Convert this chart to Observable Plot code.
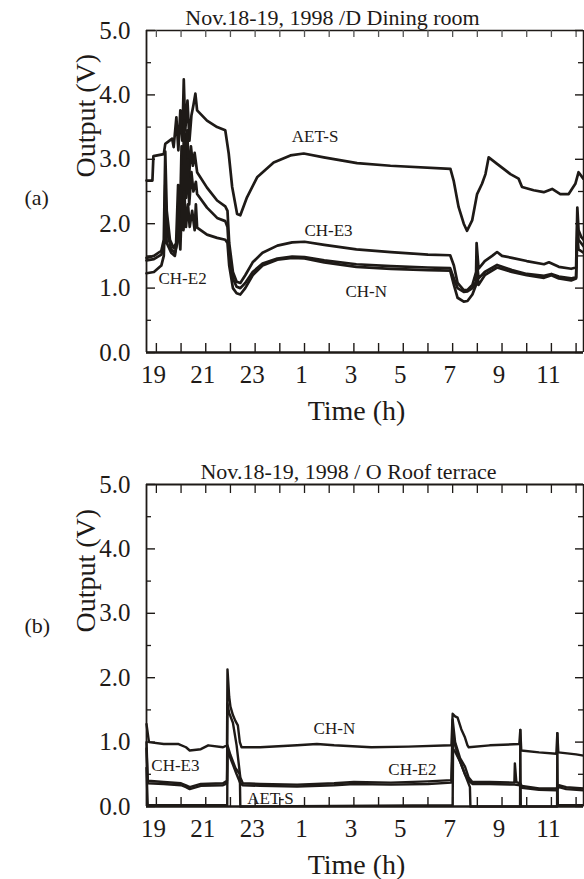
<!DOCTYPE html>
<html>
<head>
<meta charset="utf-8">
<script src="https://cdn.jsdelivr.net/npm/d3@7"></script>
<script src="https://cdn.jsdelivr.net/npm/@observablehq/plot@0.6"></script>
<style>
  html, body { margin: 0; padding: 0; background: #fff; overflow: hidden; }
  #wrap svg { display: block; font-family: "Liberation Serif", "Times New Roman", serif; }
  #wrap svg text { font-family: "Liberation Serif", "Times New Roman", serif; }
</style>
</head>
<body>
<div id="wrap"></div>
<script>
// ---------- axes / ticks ----------
const xDomain = [18.6, 36.3];            // hours (25 = 1h next day)
const hourTicks = d3.range(19, 37);      // tick every hour
const xLabelHours = [19, 21, 23, 25, 27, 29, 31, 33, 35];
const xLabelText = ["19", "21", "23", "1", "3", "5", "7", "9", "11"];
const yMajor = [0, 1, 2, 3, 4, 5];
const yMinor = [0.5, 1.5, 2.5, 3.5, 4.5];
const yLabelText = ["0.0", "1.0", "2.0", "3.0", "4.0", "5.0"];

// ---------- panel (a) Dining room : [hour, volts] ----------
const aAETS = [[18.6,2.67],[18.84,2.67],[18.88,3.05],[19.30,3.08],[19.36,3.24],[19.64,3.32],[19.70,3.19],[19.81,3.65],[19.89,3.14],[19.97,3.76],[20.05,3.29],[20.11,4.24],[20.17,3.45],[20.26,3.91],[20.34,3.29],[20.42,3.68],[20.50,3.84],[20.58,4.02],[20.65,3.76],[21.05,3.60],[21.46,3.50],[21.79,3.45],[21.93,3.09],[22.07,2.57],[22.27,2.15],[22.40,2.13],[22.67,2.41],[23.08,2.72],[23.75,2.95],[24.43,3.06],[24.97,3.09],[25.78,3.03],[27.13,2.94],[28.48,2.90],[30.91,2.85],[31.04,2.67],[31.24,2.26],[31.45,2.00],[31.58,1.89],[31.79,2.05],[31.99,2.46],[32.19,2.62],[32.33,2.77],[32.46,3.03],[32.80,2.93],[33.34,2.77],[33.67,2.70],[33.81,2.57],[34.28,2.52],[34.69,2.49],[35.03,2.54],[35.36,2.46],[35.70,2.46],[35.97,2.62],[36.10,2.80],[36.29,2.70]];
const aCHE3 = [[18.6,1.47],[18.9,1.50],[19.2,1.58],[19.3,1.75],[19.36,3.12],[19.42,2.2],[19.55,1.75],[19.7,1.62],[19.8,1.7],[19.88,2.6],[19.95,2.0],[20.02,3.2],[20.08,2.4],[20.12,3.6],[20.18,2.8],[20.25,3.45],[20.32,2.7],[20.4,3.2],[20.48,2.9],[20.55,3.1],[20.65,2.8],[21.05,2.56],[21.46,2.36],[21.79,2.27],[21.88,2.2],[21.95,1.7],[22.1,1.25],[22.25,1.1],[22.4,1.08],[22.6,1.2],[22.9,1.4],[23.3,1.55],[23.9,1.66],[24.5,1.71],[25.0,1.72],[25.8,1.67],[27.1,1.60],[28.5,1.56],[30.0,1.52],[30.9,1.51],[31.05,1.35],[31.2,1.08],[31.45,0.97],[31.6,0.97],[31.8,1.05],[31.95,1.25],[31.97,1.7],[32.05,1.3],[32.3,1.42],[32.6,1.50],[32.8,1.56],[33.0,1.50],[33.4,1.47],[34.0,1.42],[34.7,1.37],[34.9,1.40],[35.3,1.33],[35.8,1.30],[36.0,1.32],[36.05,2.25],[36.1,1.9],[36.2,1.8],[36.3,1.75]];
const aCHN = [[18.6,1.43],[18.9,1.45],[19.2,1.52],[19.32,1.7],[19.36,2.6],[19.42,1.9],[19.6,1.6],[19.75,1.55],[19.85,1.7],[19.9,2.3],[19.97,1.8],[20.03,2.9],[20.08,2.1],[20.13,3.4],[20.2,2.4],[20.27,3.0],[20.33,2.3],[20.42,2.8],[20.5,2.5],[20.6,2.65],[20.65,2.46],[21.05,2.25],[21.46,2.09],[21.79,2.04],[21.88,1.95],[21.95,1.5],[22.1,1.15],[22.25,1.02],[22.4,1.0],[22.6,1.08],[22.9,1.25],[23.3,1.38],[23.9,1.46],[24.5,1.49],[25.0,1.48],[25.8,1.43],[27.1,1.37],[28.5,1.34],[30.0,1.32],[30.9,1.31],[31.05,1.15],[31.2,1.0],[31.45,0.94],[31.6,0.95],[31.8,1.0],[31.95,1.1],[31.97,1.45],[32.05,1.15],[32.3,1.25],[32.8,1.36],[33.4,1.28],[34.0,1.22],[34.7,1.19],[35.0,1.22],[35.3,1.18],[35.8,1.15],[36.0,1.17],[36.05,2.0],[36.1,1.75],[36.3,1.65]];
const aCHE2 = [[18.6,1.23],[18.9,1.25],[19.2,1.35],[19.3,1.5],[19.36,2.2],[19.42,1.7],[19.6,1.55],[19.75,1.5],[19.9,1.9],[19.97,1.6],[20.03,2.3],[20.1,1.9],[20.13,2.5],[20.2,1.95],[20.28,2.3],[20.35,1.95],[20.45,2.2],[20.55,1.9],[20.6,2.3],[20.65,1.94],[21.05,1.83],[21.46,1.78],[21.79,1.75],[21.88,1.7],[21.95,1.35],[22.1,1.0],[22.25,0.92],[22.4,0.9],[22.6,1.0],[22.9,1.2],[23.3,1.35],[23.9,1.44],[24.5,1.47],[25.0,1.46],[25.8,1.40],[27.1,1.33],[28.5,1.30],[30.0,1.28],[30.9,1.27],[31.05,1.05],[31.2,0.85],[31.45,0.79],[31.6,0.8],[31.8,0.9],[31.95,1.05],[31.97,1.3],[32.05,1.05],[32.3,1.2],[32.8,1.32],[33.4,1.25],[34.0,1.20],[34.7,1.16],[35.0,1.2],[35.3,1.15],[35.8,1.12],[36.0,1.15],[36.05,1.8],[36.1,1.6],[36.3,1.55]];

// ---------- panel (b) Roof terrace : [hour, volts] ----------
const bCHN = [[18.6,1.28],[18.7,1.0],[19.3,0.97],[19.9,0.97],[20.2,0.92],[20.35,0.87],[20.8,0.89],[21.1,0.95],[21.7,0.92],[21.86,0.95],[21.88,2.13],[21.95,1.7],[22.0,1.55],[22.1,1.42],[22.2,1.33],[22.3,1.26],[22.38,1.0],[22.45,0.92],[23.2,0.92],[24.7,0.95],[25.5,0.97],[26.2,0.95],[27.7,0.92],[29.2,0.93],[30.95,0.95],[31.0,1.44],[31.1,1.40],[31.2,1.38],[31.35,1.2],[31.5,1.07],[31.6,0.95],[31.65,0.92],[32.5,0.95],[33.7,0.97],[33.74,1.19],[33.78,0.87],[34.5,0.84],[35.2,0.82],[35.24,1.14],[35.28,0.84],[36.0,0.81],[36.3,0.79]];
const bCHE3 = [[18.6,1.0],[18.65,0.40],[19.3,0.38],[20.0,0.36],[20.2,0.33],[20.35,0.30],[20.8,0.35],[21.7,0.36],[21.86,0.40],[21.88,1.6],[21.95,1.45],[22.1,1.3],[22.25,0.95],[22.4,0.45],[22.5,0.36],[23.2,0.35],[24.7,0.34],[26.2,0.36],[27.0,0.38],[28.5,0.37],[30.0,0.39],[30.95,0.41],[31.0,1.35],[31.1,1.0],[31.3,0.75],[31.5,0.62],[31.65,0.45],[31.8,0.38],[32.5,0.38],[33.5,0.37],[33.52,0.67],[33.58,0.38],[33.74,0.36],[33.8,0.32],[34.5,0.28],[35.2,0.28],[35.24,0.30],[35.3,0.33],[35.6,0.30],[36.3,0.28]];
const bCHE2 = [[18.6,0.9],[18.65,0.36],[19.3,0.35],[20.0,0.33],[20.2,0.30],[20.35,0.27],[20.8,0.32],[21.7,0.33],[21.86,0.36],[21.88,0.85],[21.95,0.80],[22.1,0.65],[22.25,0.5],[22.4,0.36],[22.5,0.33],[23.2,0.32],[24.7,0.31],[26.2,0.33],[27.0,0.35],[28.5,0.34],[30.0,0.35],[30.95,0.37],[31.0,0.9],[31.1,0.85],[31.3,0.7],[31.5,0.5],[31.65,0.40],[31.8,0.35],[32.5,0.35],[33.5,0.34],[33.74,0.33],[33.8,0.29],[34.5,0.26],[35.2,0.25],[35.3,0.30],[35.6,0.27],[36.3,0.25]];
const bAETS = [[18.6,0.6],[18.65,0.02],[21.87,0.02],[21.88,0.95],[22.0,0.8],[22.2,0.6],[22.38,0.5],[22.4,0.0],[31.0,0.02],[31.02,1.1],[31.2,0.8],[31.5,0.5],[31.7,0.3],[31.72,0.0],[33.73,0.0],[33.74,1.19],[33.76,0.0],[35.23,0.0],[35.24,1.14],[35.26,0.02],[36.3,0.02]];

const INK = "#1e1a17";
const FONT = "'Liberation Serif', 'Times New Roman', serif";
const PW = 437, PH = 322;

function panel(o) {
  return Plot.plot({
    width: 584, height: o.height,
    marginLeft: 146, marginRight: 1, marginTop: 30, marginBottom: o.height - 30 - PH,
    style: {fontFamily: FONT, fontSize: "25px", color: INK, background: "#fff"},
    x: {domain: xDomain, axis: null},
    y: {domain: [0, 5], axis: null},
    marks: [
      // frame
      Plot.ruleY([0], {stroke: INK, strokeWidth: 2.4}),
      Plot.ruleY([5], {stroke: INK, strokeWidth: o.topW}),
      Plot.ruleX([xDomain[0]], {stroke: INK, strokeWidth: 1.8}),
      Plot.ruleX([xDomain[1]], {stroke: INK, strokeWidth: 1.5}),
      // ticks (inward)
      Plot.tickX(hourTicks, {x: d => d, insetTop: PH - 9, stroke: INK, strokeWidth: 1.4}),
      Plot.tickX(hourTicks, {x: d => d, insetBottom: PH - o.topTick, stroke: o.topTickColor, strokeWidth: 1.3}),
      Plot.tickY(yMajor, {y: d => d, insetRight: PW - 9, stroke: INK, strokeWidth: 1.4}),
      Plot.tickY(yMinor, {y: d => d, insetRight: PW - 5, stroke: INK, strokeWidth: 1.3}),
      Plot.tickY(yMajor, {y: d => d, insetLeft: PW - 8, stroke: INK, strokeWidth: 1.4}),
      Plot.tickY(yMinor, {y: d => d, insetLeft: PW - 5, stroke: INK, strokeWidth: 1.3}),
      // tick labels
      Plot.text(xLabelHours, {x: d => d, frameAnchor: "bottom", lineAnchor: "middle", dy: 22, dx: -3,
        text: (d, i) => xLabelText[i], fontSize: 25, fontFamily: FONT, fill: INK}),
      Plot.text(yMajor, {y: d => d, frameAnchor: "left", lineAnchor: "middle", dx: -16, textAnchor: "end",
        text: (d, i) => yLabelText[i], fontSize: 25, fontFamily: FONT, fill: INK}),
      // axis titles
      Plot.text(["Time (h)"], {frameAnchor: "bottom", lineAnchor: "middle", dx: -8.5, dy: 59, text: d => d, fontSize: 28, fontFamily: FONT, fill: INK}),
      Plot.text(["Output (V)"], {frameAnchor: "left", lineAnchor: "middle", dx: -60, dy: o.ylabDy, rotate: -90, text: d => d, fontSize: 28, fontFamily: FONT, fill: INK}),
      Plot.text([o.title], {frameAnchor: "top", lineAnchor: "middle", dx: o.titleDx, dy: -13, text: d => d, fontSize: 22, fontFamily: FONT, fill: INK}),
      Plot.text([o.tag], {frameAnchor: "left", lineAnchor: "middle", dx: -122, dy: o.tagDy, text: d => d, fontSize: 22, fontFamily: FONT, fill: INK}),
      // data
      ...o.series.map(s => Plot.line(s, {x: d => d[0], y: d => d[1], stroke: INK,
        strokeWidth: o.lineW, strokeLinejoin: "round", strokeLinecap: "round"})),
      // series labels
      Plot.text(o.labels, {x: d => d[1], y: d => d[2], text: d => d[0], lineAnchor: "middle", fontSize: 17, fontFamily: FONT, fill: INK})
    ]
  });
}

const aLabels = [["AET-S", 25.43, 3.35], ["CH-E3", 25.97, 1.89], ["CH-E2", 20.06, 1.15], ["CH-N", 27.5, 0.94]];
const bLabels = [["CH-N", 26.21, 1.21], ["CH-E3", 19.77, 0.64], ["CH-E2", 29.37, 0.57], ["AET-S", 23.62, 0.13]];

const wrap = document.getElementById("wrap");
wrap.append(panel({
  height: 454, title: "Nov.18-19, 1998 /D Dining room", titleDx: -32.5, tag: "(a)", tagDy: 6,
  ylabDy: -14, topW: 1.5, topTick: 7, topTickColor: "#555", lineW: 2.7,
  series: [aAETS, aCHE3, aCHN, aCHE2], labels: aLabels
}));
wrap.append(panel({
  height: 425, title: "Nov.18-19, 1998 / O Roof terrace", titleDx: -16.5, tag: "(b)", tagDy: -20,
  ylabDy: -13, topW: 2, topTick: 9, topTickColor: INK, lineW: 2.4,
  series: [bCHN, bCHE3, bCHE2, bAETS], labels: bLabels
}));
</script>
</body>
</html>
